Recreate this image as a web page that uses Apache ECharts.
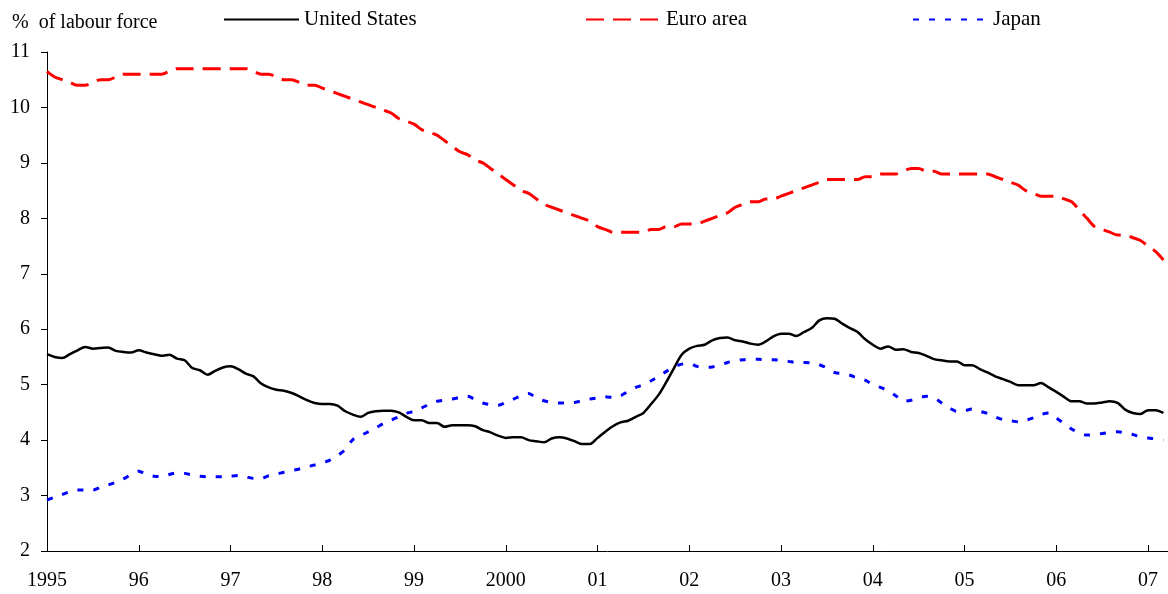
<!DOCTYPE html>
<html>
<head>
<meta charset="utf-8">
<script src="https://cdn.jsdelivr.net/npm/echarts@6/dist/echarts.min.js"></script>
<style>
  html, body { margin: 0; padding: 0; background: #fff; }
  #main { width: 1168px; height: 594px; }
</style>
</head>
<body>
<div id="main"></div>
<script>
// monthly unemployment rates, Jan 1995 .. Mar 2007
const yearLabels = ['1995', '96', '97', '98', '99', '2000', '01', '02', '03', '04', '05', '06', '07'];
const seriesNames = ['United States', 'Euro area', 'Japan'];

const usRate = [
  5.55, 5.50, 5.48, 5.55, 5.62, 5.68, 5.65, 5.66, 5.67, 5.61, 5.59, 5.58,
  5.62, 5.58, 5.55, 5.52, 5.54, 5.47, 5.44, 5.30, 5.26, 5.18, 5.25, 5.31,
  5.33, 5.28, 5.20, 5.15, 5.02, 4.95, 4.91, 4.89, 4.85, 4.79, 4.72, 4.67,
  4.65, 4.65, 4.62, 4.52, 4.46, 4.42, 4.49, 4.52, 4.53, 4.53, 4.50, 4.42,
  4.36, 4.36, 4.31, 4.31, 4.24, 4.27, 4.27, 4.27, 4.25, 4.18, 4.14, 4.08,
  4.04, 4.05, 4.05, 4.00, 3.98, 3.96, 4.03, 4.05, 4.03, 3.98, 3.93, 3.93,
  4.04, 4.15, 4.25, 4.32, 4.35, 4.42, 4.49, 4.65, 4.82, 5.05, 5.30, 5.54,
  5.65, 5.70, 5.72, 5.80, 5.84, 5.85, 5.80, 5.78, 5.74, 5.72, 5.78, 5.87,
  5.92, 5.92, 5.88, 5.95, 6.02, 6.16, 6.20, 6.19, 6.10, 6.02, 5.95, 5.82,
  5.72, 5.65, 5.69, 5.63, 5.64, 5.59, 5.57, 5.52, 5.46, 5.44, 5.42, 5.42,
  5.35, 5.35, 5.28, 5.22, 5.15, 5.10, 5.05, 4.99, 4.99, 4.99, 5.03, 4.95,
  4.87, 4.78, 4.70, 4.70, 4.66, 4.66, 4.68, 4.70, 4.67, 4.55, 4.49, 4.47,
  4.54, 4.54, 4.49
];

const euroRate = [
  10.65, 10.55, 10.50, 10.45, 10.40, 10.40, 10.45, 10.50, 10.50, 10.55, 10.60, 10.60,
  10.60, 10.60, 10.60, 10.60, 10.65, 10.70, 10.70, 10.70, 10.70, 10.70, 10.70, 10.70,
  10.70, 10.70, 10.70, 10.65, 10.60, 10.60, 10.55, 10.50, 10.50, 10.45, 10.40, 10.40,
  10.35, 10.30, 10.25, 10.20, 10.15, 10.10, 10.05, 10.00, 9.95, 9.90, 9.80, 9.75,
  9.70, 9.60, 9.55, 9.50, 9.40, 9.30, 9.20, 9.15, 9.05, 9.00, 8.90, 8.80,
  8.70, 8.60, 8.50, 8.45, 8.35, 8.25, 8.20, 8.15, 8.10, 8.05, 8.00, 7.95,
  7.85, 7.80, 7.75, 7.75, 7.75, 7.75, 7.75, 7.80, 7.80, 7.85, 7.85, 7.90,
  7.90, 7.90, 7.95, 8.00, 8.05, 8.10, 8.20, 8.25, 8.30, 8.30, 8.35, 8.35,
  8.40, 8.45, 8.50, 8.55, 8.60, 8.65, 8.70, 8.70, 8.70, 8.70, 8.70, 8.75,
  8.75, 8.80, 8.80, 8.80, 8.85, 8.90, 8.90, 8.85, 8.85, 8.80, 8.80, 8.80,
  8.80, 8.80, 8.80, 8.80, 8.75, 8.70, 8.65, 8.60, 8.50, 8.45, 8.40, 8.40,
  8.40, 8.35, 8.30, 8.15, 8.00, 7.85, 7.80, 7.75, 7.70, 7.70, 7.65, 7.60,
  7.50, 7.40, 7.25
];

const japanRate = [
  2.92, 2.97, 3.02, 3.07, 3.10, 3.10, 3.10, 3.15, 3.19, 3.24, 3.30, 3.38,
  3.44, 3.38, 3.35, 3.34, 3.38, 3.41, 3.40, 3.37, 3.35, 3.34, 3.34, 3.34,
  3.35, 3.36, 3.34, 3.31, 3.31, 3.36, 3.39, 3.42, 3.45, 3.48, 3.52, 3.55,
  3.59, 3.64, 3.72, 3.83, 4.01, 4.08, 4.15, 4.22, 4.30, 4.36, 4.42, 4.48,
  4.52, 4.58, 4.65, 4.70, 4.72, 4.74, 4.77, 4.79, 4.73, 4.67, 4.64, 4.63,
  4.68, 4.74, 4.80, 4.84, 4.76, 4.71, 4.68, 4.67, 4.67, 4.68, 4.71, 4.74,
  4.76, 4.78, 4.77, 4.80, 4.88, 4.95, 5.00, 5.07, 5.15, 5.24, 5.32, 5.37,
  5.38, 5.33, 5.31, 5.32, 5.35, 5.40, 5.43, 5.45, 5.46, 5.46, 5.45, 5.45,
  5.44, 5.42, 5.40, 5.40, 5.39, 5.36, 5.30, 5.22, 5.20, 5.17, 5.12, 5.08,
  5.00, 4.95, 4.89, 4.80, 4.70, 4.72, 4.76, 4.79, 4.76, 4.67, 4.58, 4.52,
  4.53, 4.56, 4.52, 4.48, 4.42, 4.37, 4.35, 4.33, 4.36, 4.40, 4.46, 4.49,
  4.40, 4.30, 4.20, 4.13, 4.09, 4.10, 4.12, 4.14, 4.15, 4.13, 4.10, 4.06,
  4.04, 4.02, 4.00
];

const serif = '"Liberation Serif", "Times New Roman", serif';

// month index -> [x, y] pairs for the value x axis
const toPairs = arr => arr.map((v, i) => [i, v]);

const chart = echarts.init(document.getElementById('main'));

const legendBase = {
  top: 9,
  padding: 0,
  itemWidth: 75,
  itemHeight: 14,
  selectedMode: false,
  itemStyle: { opacity: 0 },   // hide the circle, keep the line sample
  textStyle: { fontFamily: serif, fontSize: 21, color: '#000' }
};

const option = {
  animation: false,
  backgroundColor: '#fff',
  grid: { left: 47, right: 0, top: 52, bottom: 43, containLabel: false, outerBoundsMode: 'none' },
  legend: [
    Object.assign({ data: [seriesNames[0]], left: 223 }, legendBase),
    Object.assign({ data: [seriesNames[1]], left: 585 }, legendBase),
    Object.assign({ data: [seriesNames[2]], left: 912 }, legendBase)
  ],
  graphic: [{
    type: 'text',
    left: 12,
    top: 13,
    style: { text: '%  of labour force', font: '20px ' + serif, fill: '#000' }
  }],
  xAxis: {
    type: 'value',
    min: 0,
    max: 146.6,
    interval: 12,
    axisLine: { show: true, lineStyle: { color: '#000', width: 1 } },
    axisTick: { show: true, inside: true, length: 6, lineStyle: { color: '#000' } },
    axisLabel: {
      margin: 20,
      showMaxLabel: false,
      fontFamily: serif,
      fontSize: 20,
      color: '#000',
      formatter: v => (v % 12 === 0 ? yearLabels[v / 12] : '')
    },
    splitLine: { show: false }
  },
  yAxis: {
    type: 'value',
    min: 2,
    max: 11,
    interval: 1,
    axisLine: { show: true, lineStyle: { color: '#000', width: 1 } },
    axisTick: { show: true, inside: false, length: 6, lineStyle: { color: '#000' } },
    axisLabel: { margin: 17, fontFamily: serif, fontSize: 20, color: '#000' },
    splitLine: { show: false }
  },
  series: [
    {
      name: seriesNames[0],
      type: 'line',
      data: toPairs(usRate),
      symbol: 'none',
      smooth: 0.3,
      lineStyle: { color: '#000', width: 2.5 },
      itemStyle: { color: '#000' }
    },
    {
      name: seriesNames[1],
      type: 'line',
      data: toPairs(euroRate),
      symbol: 'none',
      smooth: 0.3,
      lineStyle: { color: '#ff0000', width: 3, type: [18, 9] },
      itemStyle: { color: '#ff0000' }
    },
    {
      name: seriesNames[2],
      type: 'line',
      data: toPairs(japanRate),
      symbol: 'none',
      smooth: 0.3,
      lineStyle: { color: '#0000ff', width: 3, type: [6, 10] },
      itemStyle: { color: '#0000ff' }
    }
  ]
};

chart.setOption(option);
</script>
</body>
</html>
